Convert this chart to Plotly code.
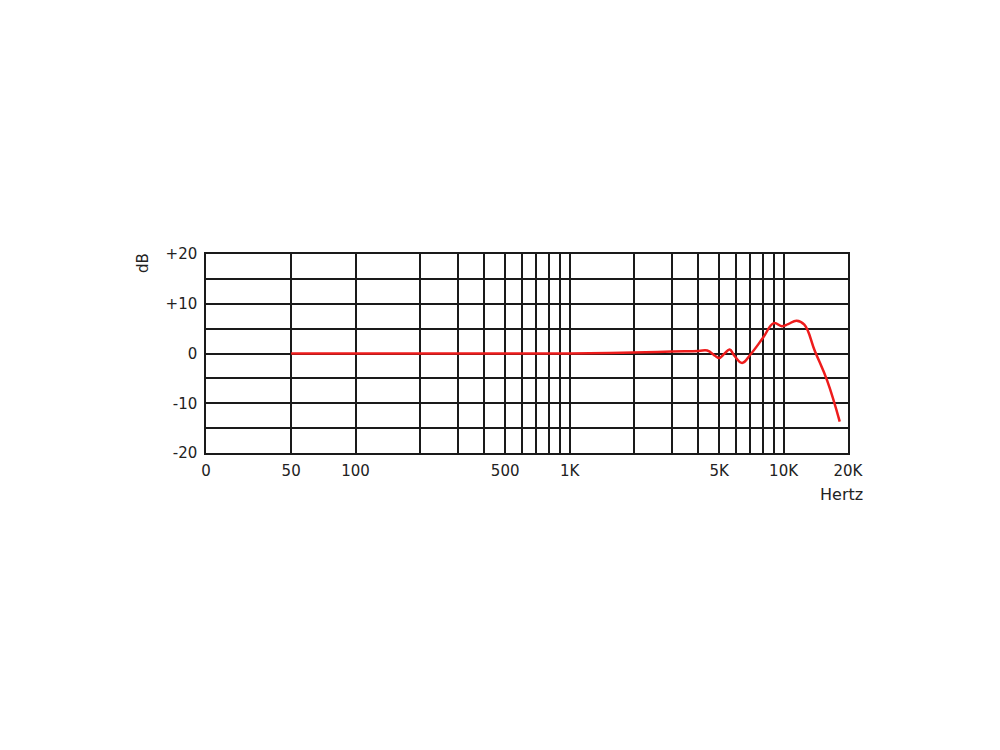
import plotly.graph_objects as go

# Frequency response data (Hz, dB)
freq_hz = [50, 100, 200, 500, 1000, 2000, 3000, 4000, 4400, 4800, 5000, 5300,
           5600, 5900, 6400, 7000, 8000, 9000, 9800, 10500, 11500, 12500,
           14000, 16000, 18300]
level_db = [0, 0, 0, 0, 0, 0.2, 0.4, 0.5, 0.6, -0.5, -0.9, 0.0,
            0.8, -0.5, -1.9, -0.2, 3.1, 6.1, 5.5, 5.9, 6.6, 5.8,
            0.5, -5.5, -13.7]

x_tickvals = [20, 50, 100, 200, 300, 400, 500, 600, 700, 800, 900, 1000,
              2000, 3000, 4000, 5000, 6000, 7000, 8000, 9000, 10000, 20000]
x_ticktext = ["0", "50", "100", "", "", "", "500", "", "", "", "", "1K",
              "", "", "", "5K", "", "", "", "", "10K", "20K"]
y_tickvals = [-20, -15, -10, -5, 0, 5, 10, 15, 20]
y_ticktext = ["-20", "", "-10", "", "0", "", "+10", "", "+20"]

FONT = "DejaVu Sans"

fig = go.Figure()
fig.add_trace(go.Scatter(
    x=freq_hz, y=level_db, mode="lines",
    line=dict(color="#ee1c1c", width=2.5, shape="spline", smoothing=1.2),
    showlegend=False, hoverinfo="skip"))

fig.update_xaxes(
    type="log", range=[1.30103, 4.30103],
    tickmode="array", tickvals=x_tickvals, ticktext=x_ticktext,
    showgrid=True, gridcolor="#1a1a1a", gridwidth=1.5,
    showline=True, linecolor="#1a1a1a", linewidth=1.5, mirror=True,
    ticks="", ticklabelstandoff=3, zeroline=False,
    tickfont=dict(family=FONT, size=15, color="#222"))
fig.update_yaxes(
    range=[-20, 20],
    tickmode="array", tickvals=y_tickvals, ticktext=y_ticktext,
    showgrid=True, gridcolor="#1a1a1a", gridwidth=1.5,
    showline=True, linecolor="#1a1a1a", linewidth=1.5, mirror=True,
    ticks="", ticklabelstandoff=4, zeroline=False,
    tickfont=dict(family=FONT, size=15, color="#222"))

fig.add_annotation(text="Hertz", xref="paper", yref="paper", x=0.99, y=-0.21,
                   xanchor="center", yanchor="middle", showarrow=False,
                   font=dict(family=FONT, size=16, color="#222"))
fig.add_annotation(text="dB", xref="paper", yref="paper", x=-0.098, y=0.955,
                   xanchor="center", yanchor="middle", showarrow=False,
                   textangle=-90, font=dict(family=FONT, size=15, color="#222"))

fig.update_layout(
    width=1000, height=750,
    margin=dict(l=198, r=160, t=246, b=305),
    paper_bgcolor="white", plot_bgcolor="white")

fig.write_html("out.html")
